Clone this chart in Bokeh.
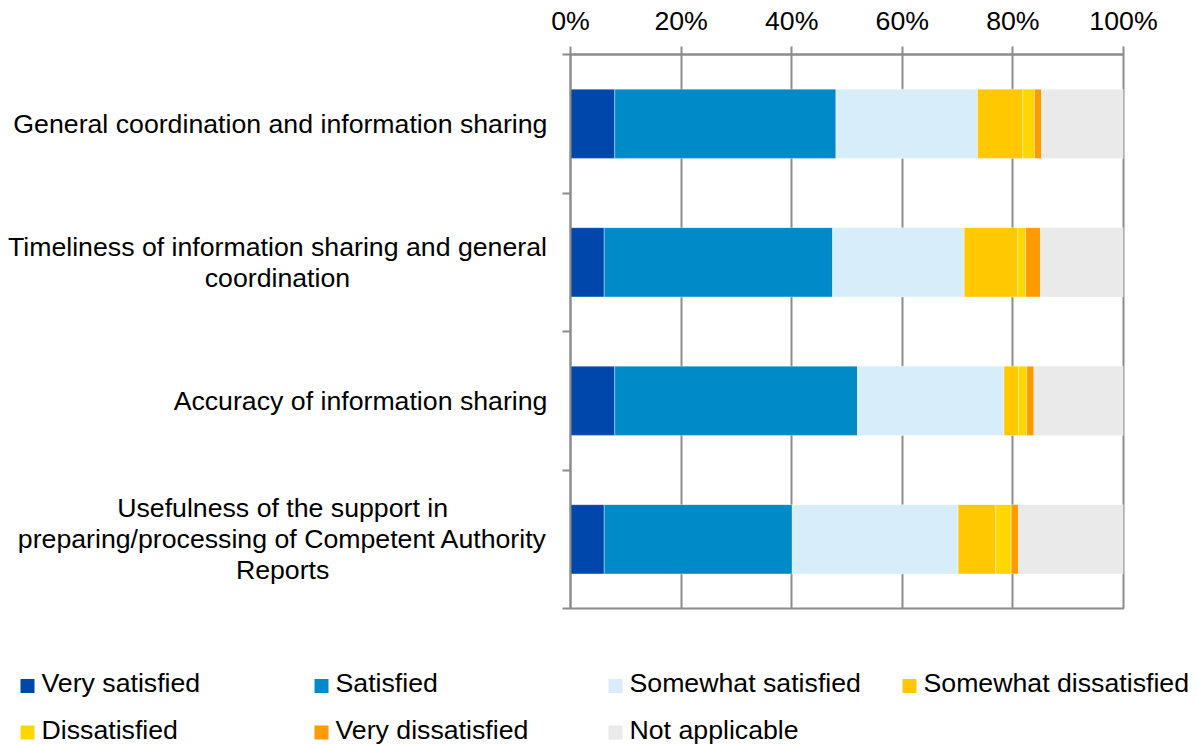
from bokeh.plotting import figure
from bokeh.layouts import row, column
from bokeh.models import Range1d, FixedTicker, ColumnDataSource
from bokeh.core.properties import value
from bokeh.embed import file_html
from bokeh.resources import INLINE

# ---------------- data ----------------
categories = [
    "General coordination and information sharing",
    "Timeliness of information sharing and general\ncoordination",
    "Accuracy of information sharing",
    "Usefulness of the support in\npreparing/processing of Competent Authority\nReports",
]
series = ["Very satisfied", "Satisfied", "Somewhat satisfied", "Somewhat dissatisfied",
          "Dissatisfied", "Very dissatisfied", "Not applicable"]
very_satisfied = [8.0, 6.1, 8.0, 6.1]
satisfied = [40.0, 41.3, 43.9, 34.0]
somewhat_satisfied = [25.6, 23.8, 26.5, 30.0]
somewhat_dissatisfied = [8.2, 9.7, 2.6, 6.8]
dissatisfied = [2.1, 1.4, 1.5, 2.8]
very_dissatisfied = [1.3, 2.7, 1.3, 1.3]
not_applicable = [14.8, 15.0, 16.2, 19.0]
colors = ["#0047AB", "#008AC8", "#D7EEFA", "#FFC800", "#FFD700", "#FF9A00", "#EAEAEA"]
tick_values = [0, 20, 40, 60, 80, 100]
tick_labels = ["0%", "20%", "40%", "60%", "80%", "100%"]

# ---------------- layout / styling constants ----------------
FONT = "Liberation Sans"
FS = "26.7px"
FS_PX = 26.7
GRAY = "#8C8C8C"

TOTAL_W, TOTAL_H = 1197, 745
LABEL_W = 550             # width of the category-label strip
TOP_H = 640               # height of the chart block
FRAME_L, FRAME_R = 570, 1123
FRAME_T, FRAME_B = 54, 608
N = len(categories)

# ---------------- main chart ----------------
keys = ["vs", "s", "ss", "sd", "d", "vd", "na"]
values = [very_satisfied, satisfied, somewhat_satisfied, somewhat_dissatisfied,
          dissatisfied, very_dissatisfied, not_applicable]
data = {"y": [i + 0.5 for i in range(N)]}
for k, v in zip(keys, values):
    data[k] = v
src = ColumnDataSource(data)

main_w = TOTAL_W - LABEL_W
p = figure(width=main_w, height=TOP_H, output_backend="svg", toolbar_location=None,
           x_range=Range1d(0, 100), y_range=Range1d(N, 0),
           x_axis_location="above",
           min_border_left=FRAME_L - LABEL_W, min_border_right=main_w - (FRAME_R - LABEL_W),
           min_border_top=FRAME_T, min_border_bottom=TOP_H - FRAME_B)
p.background_fill_color = "white"
p.border_fill_color = "white"
p.outline_line_color = GRAY
p.outline_line_width = 2

renderers = p.hbar_stack(keys, y="y", height=0.5, color=colors, source=src,
                         line_color="white", line_alpha=0.35, line_width=1)

xa = p.xaxis[0]
xa.ticker = FixedTicker(ticks=tick_values)
xa.major_label_overrides = {t: l for t, l in zip(tick_values, tick_labels)}
xa.major_tick_out = 8
xa.major_tick_in = 0
xa.minor_tick_out = 0
xa.minor_tick_in = 0
xa.axis_line_color = GRAY
xa.axis_line_width = 2
xa.major_tick_line_color = GRAY
xa.major_tick_line_width = 2
xa.major_label_standoff = 11
xa.major_label_text_font = FONT
xa.major_label_text_font_size = FS
xa.major_label_text_color = "black"

boundaries = list(range(N + 1))
ya = p.yaxis[0]
ya.ticker = FixedTicker(ticks=boundaries)
ya.major_label_overrides = {b: "" for b in boundaries}
ya.major_label_standoff = 0
ya.major_tick_out = 8
ya.major_tick_in = 0
ya.minor_tick_out = 0
ya.minor_tick_in = 0
ya.axis_line_color = GRAY
ya.axis_line_width = 2
ya.major_tick_line_color = GRAY
ya.major_tick_line_width = 2

p.xgrid.ticker = FixedTicker(ticks=tick_values)
p.xgrid.grid_line_color = GRAY
p.xgrid.grid_line_width = 2
p.ygrid.grid_line_color = None

# ---------------- category labels (centred multi-line, right edge near axis) ----------------
W = {" ": 278, "/": 278, "a": 556, "b": 556, "c": 500, "d": 556, "e": 556, "f": 278, "g": 556,
     "h": 556, "i": 222, "j": 222, "k": 500, "l": 222, "m": 833, "n": 556, "o": 556, "p": 556,
     "q": 556, "r": 333, "s": 500, "t": 278, "u": 556, "v": 500, "w": 722, "x": 500, "y": 500,
     "z": 500, "A": 667, "C": 722, "G": 778, "P": 667, "R": 722, "T": 611, "U": 722}


def text_width(s):
    return sum(W.get(ch, 556) for ch in s) / 1000.0 * FS_PX


LINE_H = 31
RIGHT_EDGE = 547
lab = {"x": [], "y": [], "dy": [], "text": []}
for i, cat in enumerate(categories):
    lines = cat.split("\n")
    wmax = max(text_width(l) for l in lines)
    n = len(lines)
    for j, line in enumerate(lines):
        lab["x"].append(RIGHT_EDGE - wmax / 2)
        lab["y"].append(i + 0.5)
        lab["dy"].append((j - (n - 1) / 2) * LINE_H)
        lab["text"].append(line)

lf = figure(width=LABEL_W, height=TOP_H, output_backend="svg", toolbar_location=None,
            x_range=Range1d(0, LABEL_W), y_range=Range1d(N, 0),
            x_axis_type=None, y_axis_type=None,
            min_border_left=0, min_border_right=0,
            min_border_top=FRAME_T, min_border_bottom=TOP_H - FRAME_B)
lf.outline_line_color = None
lf.grid.visible = False
lf.text(x="x", y="y", text="text", y_offset="dy", source=ColumnDataSource(lab),
        text_align="center", text_baseline="middle",
        text_font=value(FONT), text_font_size=value(FS), text_color="black")

# ---------------- legend strip ----------------
LEG_H = TOTAL_H - TOP_H
NCOL = 4
COL_X0, COL_DX = 20, 294
ROW_MID0, ROW_DY = 682.5 - TOP_H, 46.5
SQ = 14
SQ_DROP = 3
leg = {"sx": [], "sy": [], "tx": [], "ty": [], "label": [], "color": []}
for i, (s, c) in enumerate(zip(series, colors)):
    col, r = i % NCOL, i // NCOL
    mid = ROW_MID0 + r * ROW_DY
    leg["sx"].append(COL_X0 + col * COL_DX + SQ / 2)
    leg["sy"].append(mid + SQ_DROP)
    leg["tx"].append(COL_X0 + col * COL_DX + SQ + 7)
    leg["ty"].append(mid)
    leg["label"].append(s)
    leg["color"].append(c)
lsrc = ColumnDataSource(leg)

gf = figure(width=TOTAL_W, height=LEG_H, output_backend="svg", toolbar_location=None,
            x_range=Range1d(0, TOTAL_W), y_range=Range1d(LEG_H, 0),
            x_axis_type=None, y_axis_type=None, min_border=0)
gf.outline_line_color = None
gf.grid.visible = False
gf.rect(x="sx", y="sy", width=SQ, height=SQ, fill_color="color", line_color=None, source=lsrc)
gf.text(x="tx", y="ty", text="label", source=lsrc, text_align="left", text_baseline="middle",
        text_font=value(FONT), text_font_size=value(FS), text_color="black")

layout = column(row(lf, p), gf)
open("out.html", "w").write(file_html(layout, INLINE))
